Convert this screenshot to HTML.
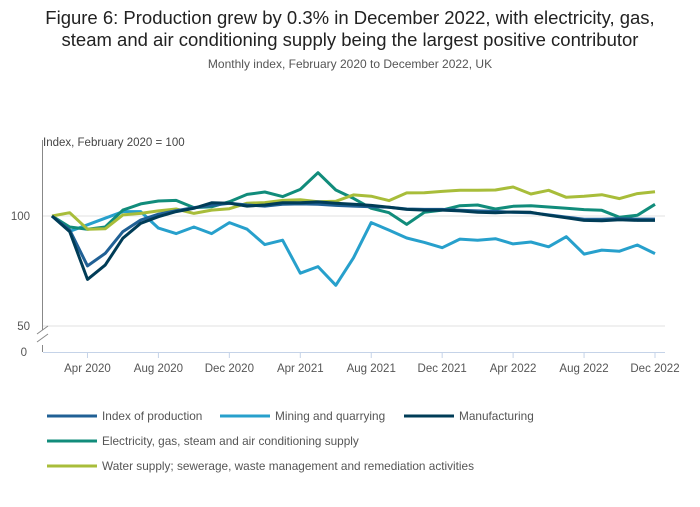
<!DOCTYPE html>
<html><head><meta charset="utf-8"><style>
body{margin:0;background:#fff;font-family:"Liberation Sans",sans-serif;}
svg text{font-family:"Liberation Sans",sans-serif;}
</style></head><body>
<svg id="chart" width="700" height="502" xmlns="http://www.w3.org/2000/svg">
<text x="350" y="24" text-anchor="middle" font-size="18.5" fill="#222">Figure 6: Production grew by 0.3% in December 2022, with electricity, gas,</text>
<text x="350" y="46" text-anchor="middle" font-size="18.5" fill="#222">steam and air conditioning supply being the largest positive contributor</text>
<text x="350" y="68" text-anchor="middle" font-size="12" fill="#555">Monthly index, February 2020 to December 2022, UK</text>
<text x="43" y="146" font-size="11.5" fill="#444">Index, February 2020 = 100</text>
<g id="axes"></g>
<g id="series"></g>
<g id="legend"></g>
</svg>
<script>
const months = ["Feb 2020","Mar 2020","Apr 2020","May 2020","Jun 2020","Jul 2020","Aug 2020","Sep 2020","Oct 2020","Nov 2020","Dec 2020","Jan 2021","Feb 2021","Mar 2021","Apr 2021","May 2021","Jun 2021","Jul 2021","Aug 2021","Sep 2021","Oct 2021","Nov 2021","Dec 2021","Jan 2022","Feb 2022","Mar 2022","Apr 2022","May 2022","Jun 2022","Jul 2022","Aug 2022","Sep 2022","Oct 2022","Nov 2022","Dec 2022"];
const indexOfProduction = [100,93.6,77.3,83,92.9,98.2,100.8,102.4,103.8,104.8,105.8,105,104.5,105.3,105.5,105.3,104.8,104.5,104.2,104,103.2,103,103,102.6,102.3,102.1,101.7,101.5,100.5,99.5,98.5,98.5,98.8,98.6,98.6];
const mining = [100,93,96,99,102,102,94.5,92,95,92,97,94,87,89,74,77,68.5,81,97,93.6,90,88,85.6,89.5,89,89.7,87.3,88.2,86,90.6,82.7,84.5,84,86.8,82.9];
const manufacturing = [100,92.9,71.2,77.7,89.9,96.7,99.7,102,103.5,106,105.8,104.5,105,106,106,106.4,105.8,105.3,104.8,104,103,102.7,102.7,102.3,101.7,101.5,101.8,101.7,100.3,99.2,98,97.8,98.3,98,98];
const electricity = [100,95,94,95,102.7,105.5,106.8,107.1,103.8,104.2,106.5,109.8,110.9,108.8,112.1,119.7,111.8,108,103.5,101.5,96.2,101.7,102.7,104.7,105,103.2,104.4,104.7,104.1,103.5,102.9,102.6,99.4,100.3,105.3];
const water = [100,101.5,94,94.2,100.5,101.2,102.3,103.2,101.2,102.7,103.3,105.8,106.1,107.1,107.4,106.5,106.7,109.6,109,107,110.5,110.6,111.2,111.7,111.7,111.8,113.2,110,111.7,108.5,109,109.7,107.9,110.2,111];
const seriesNames = ["Index of production","Mining and quarrying","Manufacturing","Electricity, gas, steam and air conditioning supply","Water supply; sewerage, waste management and remediation activities"];
const yTicks = [100,50];
const xTickLabels = ["Apr 2020","Aug 2020","Dec 2020","Apr 2021","Aug 2021","Dec 2021","Apr 2022","Aug 2022","Dec 2022"];

const NS="http://www.w3.org/2000/svg";
const x0=52, x1=655;
function xS(i){return x0+(x1-x0)*i/(months.length-1);}
function yS(v){return 216-(v-100)*2.2;}
function mk(tag,attrs,parent){const e=document.createElementNS(NS,tag);for(const k in attrs)e.setAttribute(k,attrs[k]);parent.appendChild(e);return e;}
const axes=document.getElementById('axes');
yTicks.forEach(t=>{
  const g=mk('line',{x1:43,x2:665,y1:yS(t),y2:yS(t),stroke:'#e0e0e0','stroke-width':1},axes);
  
  
  const tx=mk('text',{x:30,y:yS(t)+4,'text-anchor':'end','font-size':11.5,fill:'#555'},axes);
  tx.textContent=t;
  
  
});
const z=mk('text',{x:27,y:356,'text-anchor':'end','font-size':11.5,fill:'#555'},axes);z.textContent='0';


const ya=mk('path',{d:'M42.5 140 V330 M42.5 345 V352',stroke:'#888','stroke-width':1,fill:'none'},axes);


const br=mk('path',{d:'M37 334 L48 326 M37 342 L48 334',stroke:'#888','stroke-width':1,fill:'none'},axes);


const xa=mk('line',{x1:43,x2:665,y1:352.5,y2:352.5,stroke:'#c5d3e8','stroke-width':1},axes);


xTickLabels.forEach(l=>{
  const i=months.indexOf(l);const x=xS(i);
  const tk=mk('line',{x1:x,x2:x,y1:352,y2:358,stroke:'#c5d3e8'},axes);
  
  
  const t=mk('text',{x:x,y:372,'text-anchor':'middle','font-size':11.5,fill:'#555'},axes);
  t.textContent=l;
  
  
});
const allSeries=[indexOfProduction,mining,manufacturing,electricity,water];
const colors=['#206095','#27a0cc','#003c57','#118c7b','#a8bd3a'];
const order=[1,3,4,0,2];
const sg=document.getElementById('series');
order.forEach(k=>{
  const d=allSeries[k].map((v,i)=>(i?'L':'M')+xS(i).toFixed(1)+' '+yS(v).toFixed(1)).join(' ');
  const p=mk('path',{d:d,stroke:colors[k],'stroke-width':3,fill:'none','stroke-linejoin':'round'},sg);
  
  
});
const lg=document.getElementById('legend');
const lpos=[[47,416],[220,416],[404,416],[47,441],[47,466]];
seriesNames.forEach((n,k)=>{
  const g=mk('g',{},lg);
  
  
  const [x,y]=lpos[k];
  mk('line',{x1:x,x2:x+50,y1:y,y2:y,stroke:colors[k],'stroke-width':3},g);
  const t=mk('text',{x:x+55,y:y+4,'font-size':11.8,fill:'#555'},g);
  t.textContent=n;
});
</script>
</body></html>
